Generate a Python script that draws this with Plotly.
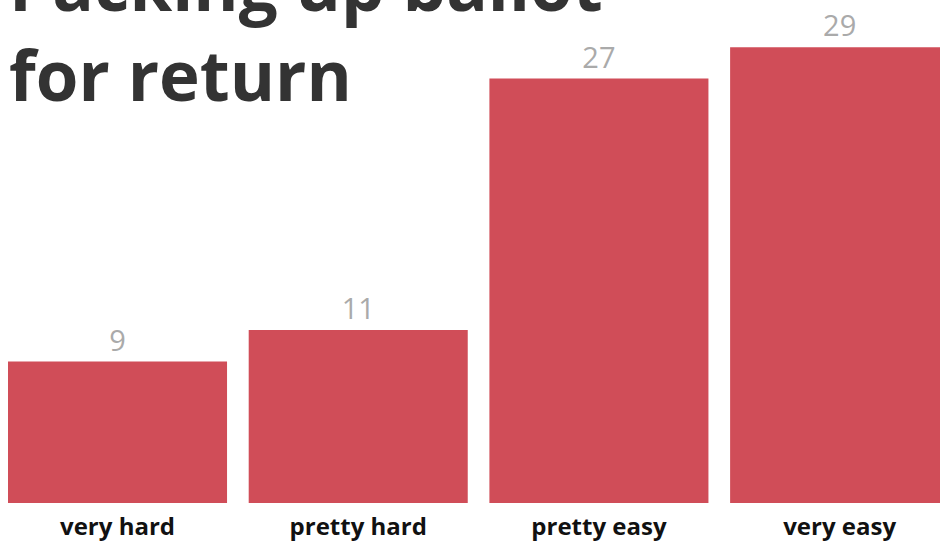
import plotly.graph_objects as go

categories = ["very hard", "pretty hard", "pretty easy", "very easy"]
values = [9, 11, 27, 29]
title_lines = ["Packing up ballot", "for return"]

fig = go.Figure(go.Bar(
    x=categories,
    y=values,
    marker=dict(color="#d04d58", line=dict(width=0)),
    text=[str(v) for v in values],
    textposition="outside",
    textfont=dict(family="Open Sans", size=29, color="#aaaaaa"),
    cliponaxis=False,
    width=0.91,
))

fig.add_annotation(
    text="<br>".join("<b>" + s + "</b>" for s in title_lines),
    xref="paper", yref="paper",
    x=-0.001, y=0.7685,
    xanchor="left", yanchor="bottom",
    align="left",
    showarrow=False,
    font=dict(family="Open Sans", size=69, color="#333333"),
)
fig.update_layout(
    width=940, height=543,
    margin=dict(l=8, r=0, t=8, b=40, pad=0),
    paper_bgcolor="white",
    plot_bgcolor="white",
    showlegend=False,
    hovermode=False,
    xaxis=dict(
        range=[-0.455, 3.417],
        showgrid=False, zeroline=False, showline=False,
        tickfont=dict(family="Open Sans", size=24, color="#111111"),
        ticks="",
        ticklabelstandoff=7,
        tickprefix="<b>", ticksuffix="</b>",
    ),
    yaxis=dict(range=[0, 31.49], visible=False),
)

fig.write_html(
    "out.html",
    config={"displayModeBar": False},
    post_script="document.body.style.margin='0';document.documentElement.style.overflow='hidden';",
)
